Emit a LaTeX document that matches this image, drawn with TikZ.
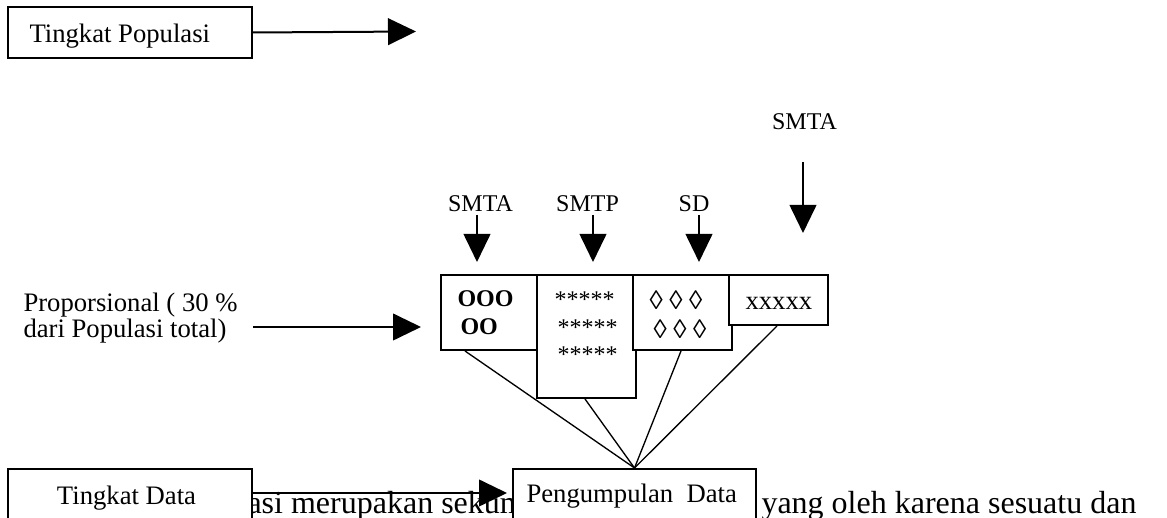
\documentclass[tikz,border=0pt]{standalone}
\usepackage{fontspec}
\setmainfont{Liberation Serif}
\usetikzlibrary{arrows.meta,calc}
\begin{document}
\begin{tikzpicture}[x=0.375pt,y=-0.375pt,
  box/.style={draw,line width=0.75pt,fill=white,inner sep=0pt,anchor=north west},
  arr/.style={line width=0.75pt,-{Triangle[length=10.5pt,width=10pt]}},
  thinline/.style={line width=0.5pt},
  lbl/.style={inner sep=0pt,font=\fontsize{10}{12}\selectfont},
  sml/.style={inner sep=0pt,font=\fontsize{9}{11}\selectfont},
  bold/.style={inner sep=0pt,font=\bfseries\fontsize{9}{11}\selectfont},
  body/.style={inner sep=0pt,font=\fontsize{12}{14}\selectfont}]
\clip (0,0) rectangle (1167,518);
\fill[white] (0,0) rectangle (1167,518);

% background paragraph line, partly hidden
\begin{scope}
  \clip (252,470) rectangle (512,518);
  \node[body,anchor=base west] (bt1) at (247,514) {asi merupakan sekum};
\end{scope}
\begin{scope}
  \clip (755,470) rectangle (1167,518);
  \node[body,anchor=base east] (bt2) at (1137,514) {g yang oleh karena sesuatu dan};
\end{scope}

% boxes
\node[box,minimum width=91.5pt,minimum height=19.125pt] (popbox) at (7,6) {};
\node[box,minimum width=36pt,minimum height=28.125pt] (box1) at (440,274) {};
\node[box,minimum width=37.125pt,minimum height=46.125pt] (box2) at (536,274) {};
\node[box,minimum width=37.125pt,minimum height=28.125pt] (box3) at (632,274) {};
\node[box,minimum width=37.125pt,minimum height=18.75pt] (box4) at (728,274) {};
\node[box,minimum width=91.5pt,minimum height=26.25pt] (tdbox) at (7,468) {};
\node[box,minimum width=91.125pt,minimum height=26.25pt] (pd) at (512,468) {};

% texts
\node[lbl,anchor=base west] (tpop) at (29,43) {Tingkat Populasi};
\node[sml,anchor=base] (s4) at (804.5,130) {SMTA};
\node[sml,anchor=base] (s1) at (480.5,212) {SMTA};
\node[sml,anchor=base] (s2) at (587.5,212) {SMTP};
\node[sml,anchor=base] (s3) at (694,212) {SD};
\node[lbl,anchor=base west] (p1) at (23,312) {Proporsional ( 30 \%};
\node[lbl,anchor=base west] (p2) at (23,338) {dari Populasi total)};
\node[bold,anchor=base west] (o1) at (457,307) {OOO};
\node[bold,anchor=base west] (o2) at (460,335) {OO};
\node[sml,anchor=base west] (a1) at (554,308) {*****};
\node[sml,anchor=base west] (a2) at (557,336) {*****};
\node[sml,anchor=base west] (a3) at (557,363) {*****};
\node[lbl,anchor=base west] (d1) at (649,310) {◊ ◊ ◊};
\node[lbl,anchor=base west] (d2) at (653,339) {◊ ◊ ◊};
\node[lbl,anchor=base west] (x1) at (745,310) {xxxxx};
\node[lbl,anchor=base] (tdt) at (126.5,505) {Tingkat Data};
\node[lbl,anchor=base west] (pdt) at (526,503) {Pengumpulan\ \ Data};

% connectors to Pengumpulan Data
\draw[thinline] ($(box1.south west)+(25,0)$) -- (pd.north);
\draw[thinline] ($(box2.south west)+(49,0)$) -- (pd.north);
\draw[thinline] ($(box3.south west)+(49,0)$) -- (pd.north);
\draw[thinline] ($(box4.south west)+(49,0)$) -- (pd.north);

% arrows
\coordinate (popend) at (416,31.5);
\draw[arr] (popbox.east) -- (popend);
\coordinate (t4a) at (803,162);
\coordinate (t4b) at (803,233);
\draw[arr] (t4a) -- (t4b);
\coordinate (t1) at (477,215);
\coordinate (t2) at (593,215);
\coordinate (t3) at (699,215);
\draw[arr] (t1) -- ($(box1.north -| t1)+(0,-12)$);
\draw[arr] (t2) -- ($(box2.north -| t2)+(0,-12)$);
\draw[arr] (t3) -- ($(box3.north -| t3)+(0,-12)$);
\coordinate (ps) at (253,327);
\draw[arr] (ps) -- ($(box1.west |- ps)+(-19,0)$);
\coordinate (ya) at (0,493);
\draw[arr] (tdbox.east |- ya) -- ($(pd.west |- ya)+(-5,0)$);
\end{tikzpicture}
\end{document}
